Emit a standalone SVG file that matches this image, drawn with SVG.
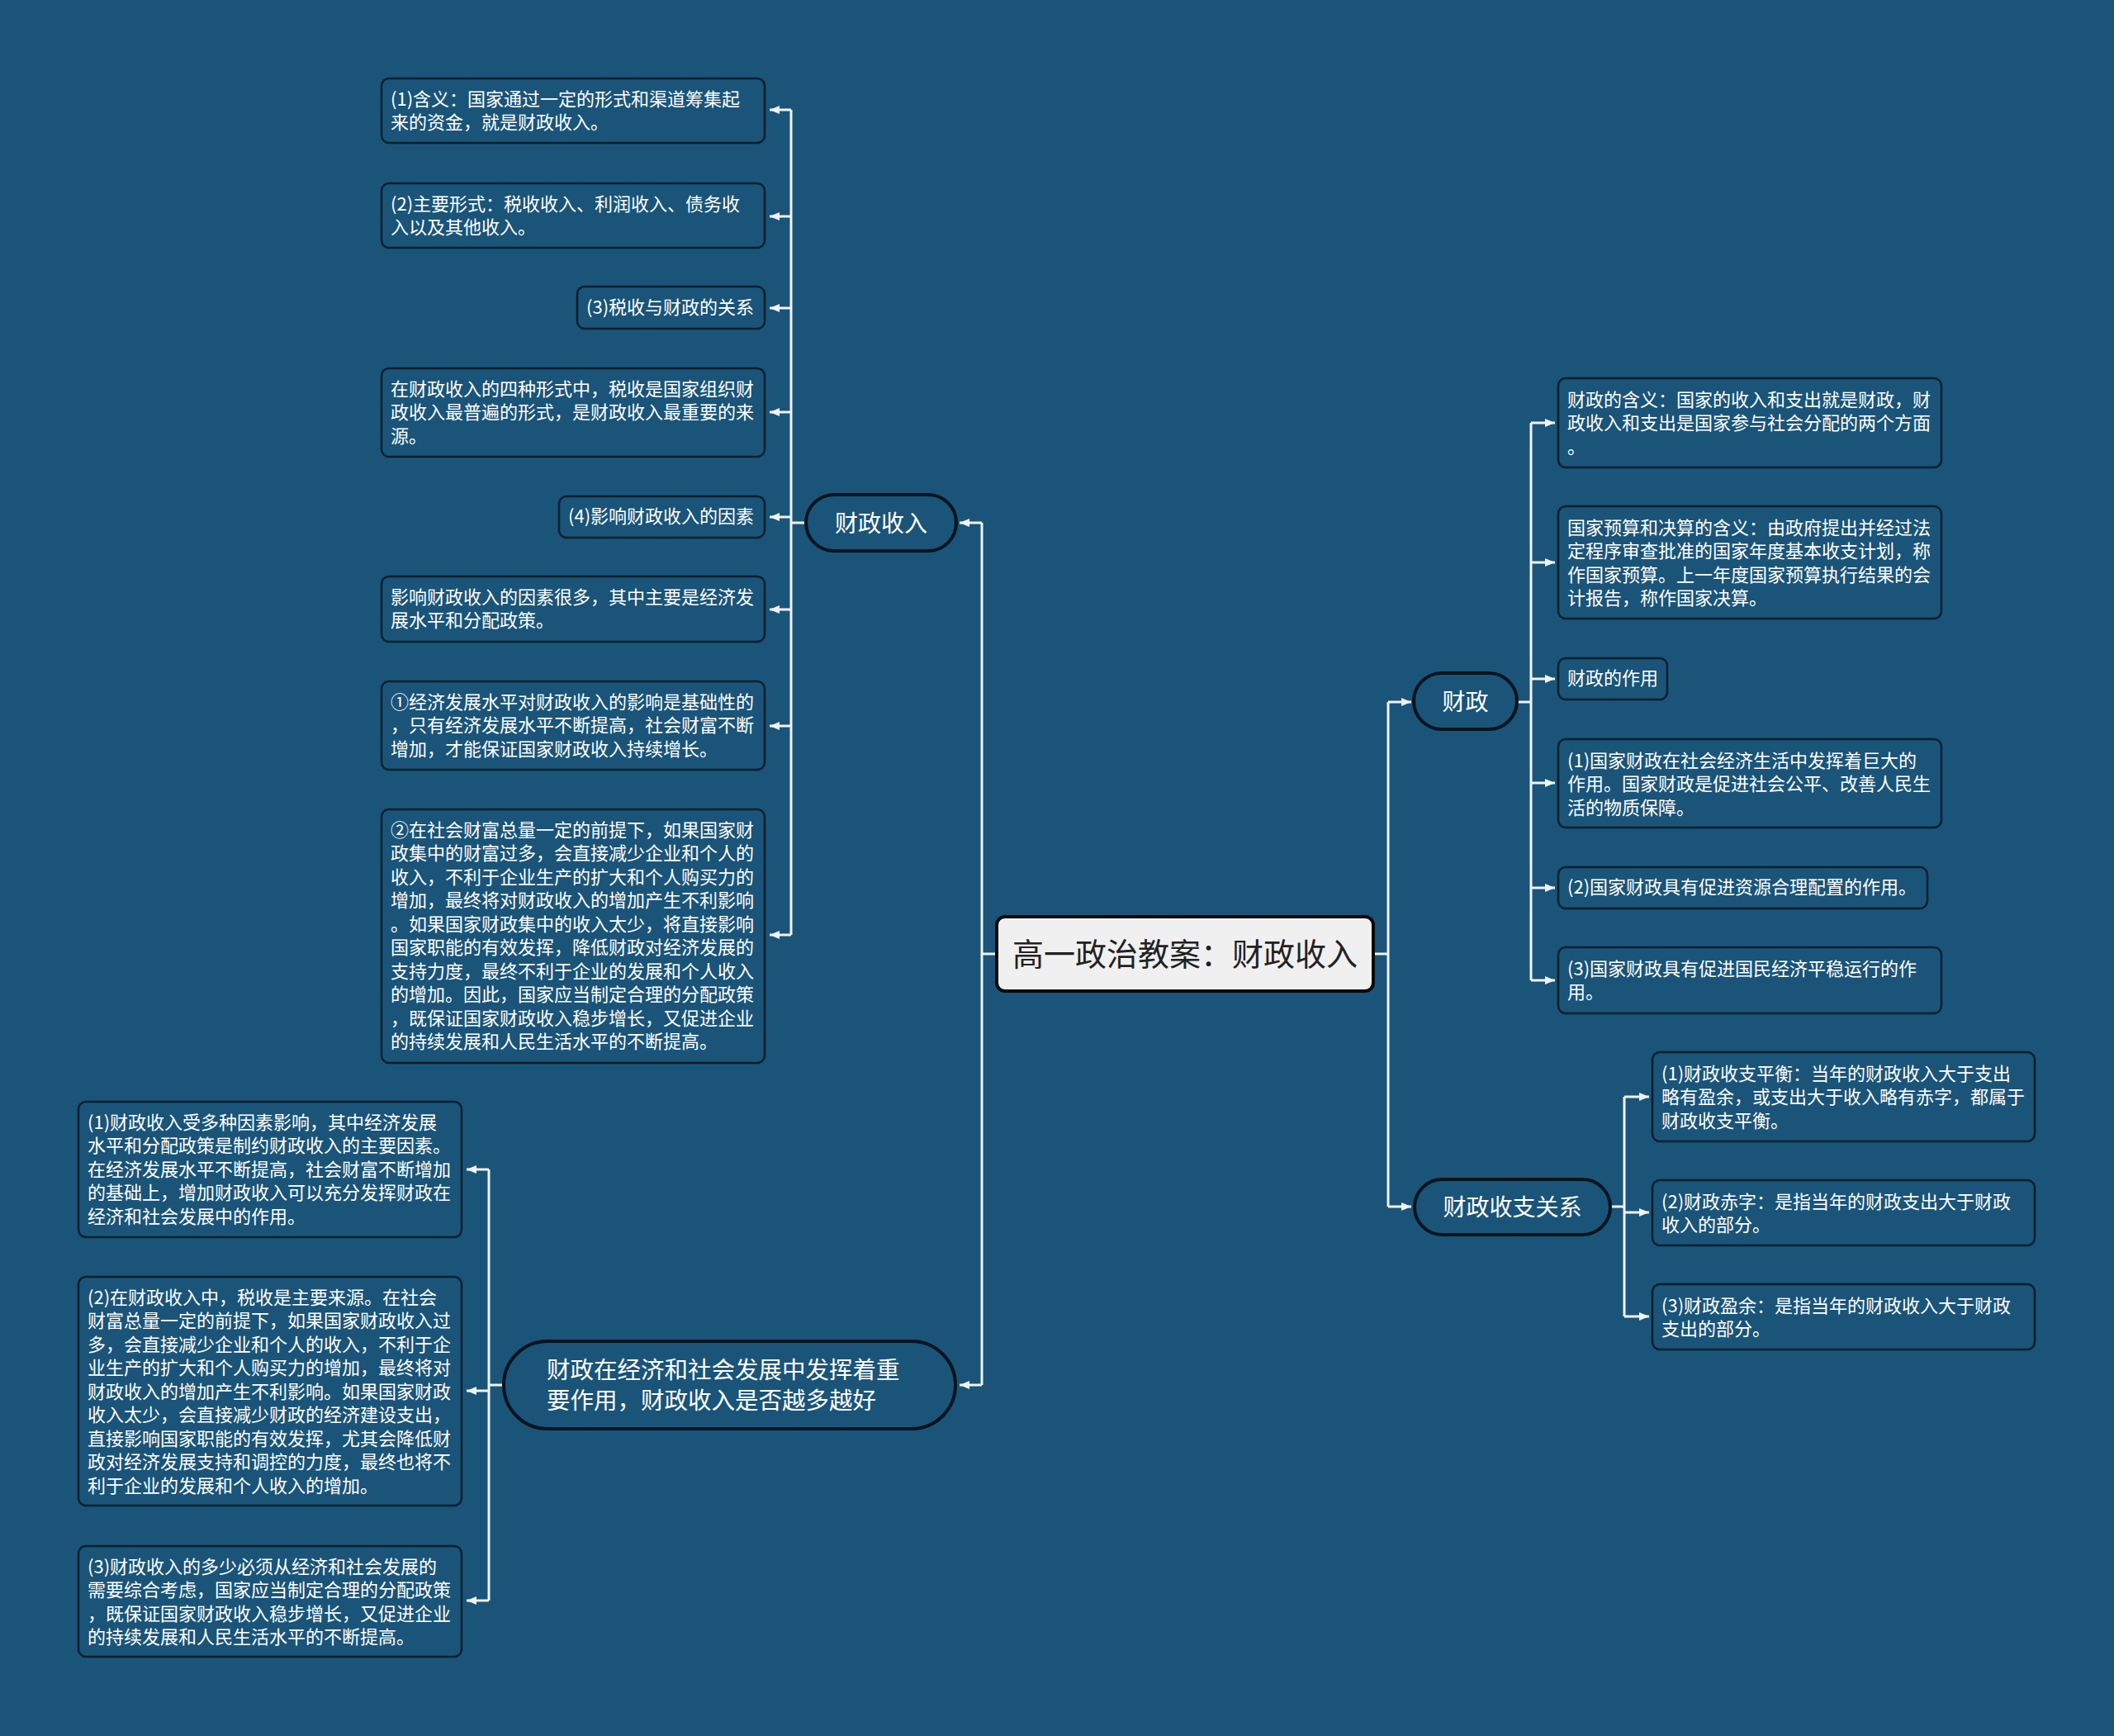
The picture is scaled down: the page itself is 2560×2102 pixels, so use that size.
<svg xmlns="http://www.w3.org/2000/svg" width="2560" height="2102" viewBox="0 0 2560 2102">
<defs>
<marker id="ah" viewBox="0 0 12 10" refX="12" refY="5" markerWidth="12" markerHeight="10" markerUnits="userSpaceOnUse" orient="auto">
<path d="M0,0 L12,5 L0,10 z" fill="#f2f2f2"/>
</marker>
<style>
.bg{fill:#1a5479}
.box{fill:#1a5479;stroke:#0c1f2c;stroke-width:2.5}
.pill{fill:#1a5479;stroke:#08141d;stroke-width:4}
.root{fill:#f0f0f0;stroke:#0a0a0a;stroke-width:4}
.t{font-family:"Noto Sans CJK SC","Noto Sans",sans-serif;font-size:22px;fill:#ffffff;transform:translateY(-1.5px)}
.tm{font-family:"Noto Sans CJK SC","Noto Sans",sans-serif;font-size:28px;fill:#ffffff}
.tw{font-family:"Noto Sans CJK SC","Noto Sans",sans-serif;font-size:28.5px;fill:#ffffff}
.tr{font-family:"Noto Sans CJK SC","Noto Sans",sans-serif;font-size:38px;fill:#222222}
.c{fill:none;stroke:#f2f2f2;stroke-width:3}
.a{fill:none;stroke:#f2f2f2;stroke-width:3;marker-end:url(#ah)}
</style>
</defs>
<rect class="bg" x="0" y="0" width="2560" height="2102"/>

<g id="connectors">
<path class="c" d="M1207,1155 H1189 M1189,633 V1677"/>
<path class="a" d="M1189,633 H1162"/>
<path class="a" d="M1189,1677 H1162"/>
<path class="c" d="M976,633 H958 M958,133 V1132"/>
<path class="a" d="M958,133 H932"/>
<path class="a" d="M958,262 H932"/>
<path class="a" d="M958,373 H932"/>
<path class="a" d="M958,499 H932"/>
<path class="a" d="M958,626 H932"/>
<path class="a" d="M958,738 H932"/>
<path class="a" d="M958,879 H932"/>
<path class="a" d="M958,1132 H932"/>
<path class="c" d="M610,1677 H592 M592,1416 V1938"/>
<path class="a" d="M592,1416 H565"/>
<path class="a" d="M592,1684 H565"/>
<path class="a" d="M592,1938 H565"/>
<path class="c" d="M1663,1155 H1681 M1681,850 V1461"/>
<path class="a" d="M1681,850 H1709"/>
<path class="a" d="M1681,1461 H1709"/>
<path class="c" d="M1837,850 H1854 M1854,512 V1187"/>
<path class="a" d="M1854,512 H1883"/>
<path class="a" d="M1854,681 H1883"/>
<path class="a" d="M1854,822 H1883"/>
<path class="a" d="M1854,948 H1883"/>
<path class="a" d="M1854,1075 H1883"/>
<path class="a" d="M1854,1187 H1883"/>
<path class="c" d="M1950,1461 H1967 M1967,1328 V1594"/>
<path class="a" d="M1967,1328 H1997"/>
<path class="a" d="M1967,1468 H1997"/>
<path class="a" d="M1967,1594 H1997"/>
</g>

<g id="root">
<rect class="root" x="1207" y="1110" width="456" height="90" rx="10"/>
<text class="tr" x="1435" y="1169" text-anchor="middle">高一政治教案：财政收入</text>
</g>

<g id="n-caizhengshouru">
<rect class="pill" x="976" y="599" width="182" height="68" rx="34"/>
<text class="tm" x="1067" y="644" text-anchor="middle">财政收入</text>
</g>

<g id="n-fahui">
<rect class="pill" x="610" y="1624" width="547" height="106" rx="53"/>
<text class="tw"><tspan x="662" y="1669">财政在经济和社会发展中发挥着重</tspan><tspan x="662" y="1706">要作用，财政收入是否越多越好</tspan></text>
</g>

<g id="n-caizheng">
<rect class="pill" x="1712" y="815" width="125" height="68" rx="34"/>
<text class="tm" x="1774.5" y="860" text-anchor="middle">财政</text>
</g>

<g id="n-shouzhi">
<rect class="pill" x="1713" y="1428" width="237" height="67" rx="33.5"/>
<text class="tm" x="1831.5" y="1472" text-anchor="middle">财政收支关系</text>
</g>

<g id="l1">
<rect class="box" x="462" y="95" width="464" height="78" rx="9"/>
<text class="t"><tspan x="473" y="129">(1)含义：国家通过一定的形式和渠道筹集起</tspan><tspan x="473" y="157.5">来的资金，就是财政收入。</tspan></text>
</g>
<g id="l2">
<rect class="box" x="462" y="222" width="464" height="78" rx="9"/>
<text class="t"><tspan x="473" y="256">(2)主要形式：税收收入、利润收入、债务收</tspan><tspan x="473" y="284.5">入以及其他收入。</tspan></text>
</g>
<g id="l3">
<rect class="box" x="699" y="347" width="227" height="51" rx="9"/>
<text class="t" x="710" y="381">(3)税收与财政的关系</text>
</g>
<g id="l4">
<rect class="box" x="462" y="446" width="464" height="107" rx="9"/>
<text class="t"><tspan x="473" y="480">在财政收入的四种形式中，税收是国家组织财</tspan><tspan x="473" y="508.5">政收入最普遍的形式，是财政收入最重要的来</tspan><tspan x="473" y="537">源。</tspan></text>
</g>
<g id="l5">
<rect class="box" x="677" y="601" width="249" height="50" rx="9"/>
<text class="t" x="688" y="634">(4)影响财政收入的因素</text>
</g>
<g id="l6">
<rect class="box" x="462" y="698" width="464" height="79" rx="9"/>
<text class="t"><tspan x="473" y="732">影响财政收入的因素很多，其中主要是经济发</tspan><tspan x="473" y="760.5">展水平和分配政策。</tspan></text>
</g>
<g id="l7">
<rect class="box" x="462" y="825" width="464" height="107" rx="9"/>
<text class="t"><tspan x="473" y="859">①经济发展水平对财政收入的影响是基础性的</tspan><tspan x="473" y="887.5">，只有经济发展水平不断提高，社会财富不断</tspan><tspan x="473" y="916">增加，才能保证国家财政收入持续增长。</tspan></text>
</g>
<g id="l8">
<rect class="box" x="462" y="980" width="464" height="307" rx="9"/>
<text class="t"><tspan x="473" y="1014">②在社会财富总量一定的前提下，如果国家财</tspan><tspan x="473" y="1042.5">政集中的财富过多，会直接减少企业和个人的</tspan><tspan x="473" y="1071">收入，不利于企业生产的扩大和个人购买力的</tspan><tspan x="473" y="1099.5">增加，最终将对财政收入的增加产生不利影响</tspan><tspan x="473" y="1128">。如果国家财政集中的收入太少，将直接影响</tspan><tspan x="473" y="1156.5">国家职能的有效发挥，降低财政对经济发展的</tspan><tspan x="473" y="1185">支持力度，最终不利于企业的发展和个人收入</tspan><tspan x="473" y="1213.5">的增加。因此，国家应当制定合理的分配政策</tspan><tspan x="473" y="1242">，既保证国家财政收入稳步增长，又促进企业</tspan><tspan x="473" y="1270.5">的持续发展和人民生活水平的不断提高。</tspan></text>
</g>

<g id="b1">
<rect class="box" x="95" y="1334" width="464" height="164" rx="9"/>
<text class="t"><tspan x="106" y="1368">(1)财政收入受多种因素影响，其中经济发展</tspan><tspan x="106" y="1396.5">水平和分配政策是制约财政收入的主要因素。</tspan><tspan x="106" y="1425">在经济发展水平不断提高，社会财富不断增加</tspan><tspan x="106" y="1453.5">的基础上，增加财政收入可以充分发挥财政在</tspan><tspan x="106" y="1482">经济和社会发展中的作用。</tspan></text>
</g>
<g id="b2">
<rect class="box" x="95" y="1546" width="464" height="277" rx="9"/>
<text class="t"><tspan x="106" y="1580">(2)在财政收入中，税收是主要来源。在社会</tspan><tspan x="106" y="1608.5">财富总量一定的前提下，如果国家财政收入过</tspan><tspan x="106" y="1637">多，会直接减少企业和个人的收入，不利于企</tspan><tspan x="106" y="1665.5">业生产的扩大和个人购买力的增加，最终将对</tspan><tspan x="106" y="1694">财政收入的增加产生不利影响。如果国家财政</tspan><tspan x="106" y="1722.5">收入太少，会直接减少财政的经济建设支出，</tspan><tspan x="106" y="1751">直接影响国家职能的有效发挥，尤其会降低财</tspan><tspan x="106" y="1779.5">政对经济发展支持和调控的力度，最终也将不</tspan><tspan x="106" y="1808">利于企业的发展和个人收入的增加。</tspan></text>
</g>
<g id="b3">
<rect class="box" x="95" y="1872" width="464" height="134" rx="9"/>
<text class="t"><tspan x="106" y="1906">(3)财政收入的多少必须从经济和社会发展的</tspan><tspan x="106" y="1934.5">需要综合考虑，国家应当制定合理的分配政策</tspan><tspan x="106" y="1963">，既保证国家财政收入稳步增长，又促进企业</tspan><tspan x="106" y="1991.5">的持续发展和人民生活水平的不断提高。</tspan></text>
</g>

<g id="r1">
<rect class="box" x="1887" y="458" width="464" height="108" rx="9"/>
<text class="t"><tspan x="1898" y="493">财政的含义：国家的收入和支出就是财政，财</tspan><tspan x="1898" y="521.5">政收入和支出是国家参与社会分配的两个方面</tspan><tspan x="1898" y="550">。</tspan></text>
</g>
<g id="r2">
<rect class="box" x="1887" y="613" width="464" height="136" rx="9"/>
<text class="t"><tspan x="1898" y="648">国家预算和决算的含义：由政府提出并经过法</tspan><tspan x="1898" y="676.5">定程序审查批准的国家年度基本收支计划，称</tspan><tspan x="1898" y="705">作国家预算。上一年度国家预算执行结果的会</tspan><tspan x="1898" y="733.5">计报告，称作国家决算。</tspan></text>
</g>
<g id="r3">
<rect class="box" x="1887" y="797" width="132" height="50" rx="9"/>
<text class="t" x="1898" y="830">财政的作用</text>
</g>
<g id="r4">
<rect class="box" x="1887" y="895" width="464" height="107" rx="9"/>
<text class="t"><tspan x="1898" y="930">(1)国家财政在社会经济生活中发挥着巨大的</tspan><tspan x="1898" y="958.5">作用。国家财政是促进社会公平、改善人民生</tspan><tspan x="1898" y="987">活的物质保障。</tspan></text>
</g>
<g id="r5">
<rect class="box" x="1887" y="1050" width="447" height="50" rx="9"/>
<text class="t" x="1898" y="1083">(2)国家财政具有促进资源合理配置的作用。</text>
</g>
<g id="r6">
<rect class="box" x="1887" y="1147" width="464" height="80" rx="9"/>
<text class="t"><tspan x="1898" y="1182">(3)国家财政具有促进国民经济平稳运行的作</tspan><tspan x="1898" y="1210.5">用。</tspan></text>
</g>

<g id="s1">
<rect class="box" x="2001" y="1274" width="463" height="108" rx="9"/>
<text class="t"><tspan x="2012" y="1309">(1)财政收支平衡：当年的财政收入大于支出</tspan><tspan x="2012" y="1337.5">略有盈余，或支出大于收入略有赤字，都属于</tspan><tspan x="2012" y="1366">财政收支平衡。</tspan></text>
</g>
<g id="s2">
<rect class="box" x="2001" y="1429" width="463" height="79" rx="9"/>
<text class="t"><tspan x="2012" y="1464">(2)财政赤字：是指当年的财政支出大于财政</tspan><tspan x="2012" y="1492.5">收入的部分。</tspan></text>
</g>
<g id="s3">
<rect class="box" x="2001" y="1555" width="463" height="79" rx="9"/>
<text class="t"><tspan x="2012" y="1590">(3)财政盈余：是指当年的财政收入大于财政</tspan><tspan x="2012" y="1618.5">支出的部分。</tspan></text>
</g>
</svg>
